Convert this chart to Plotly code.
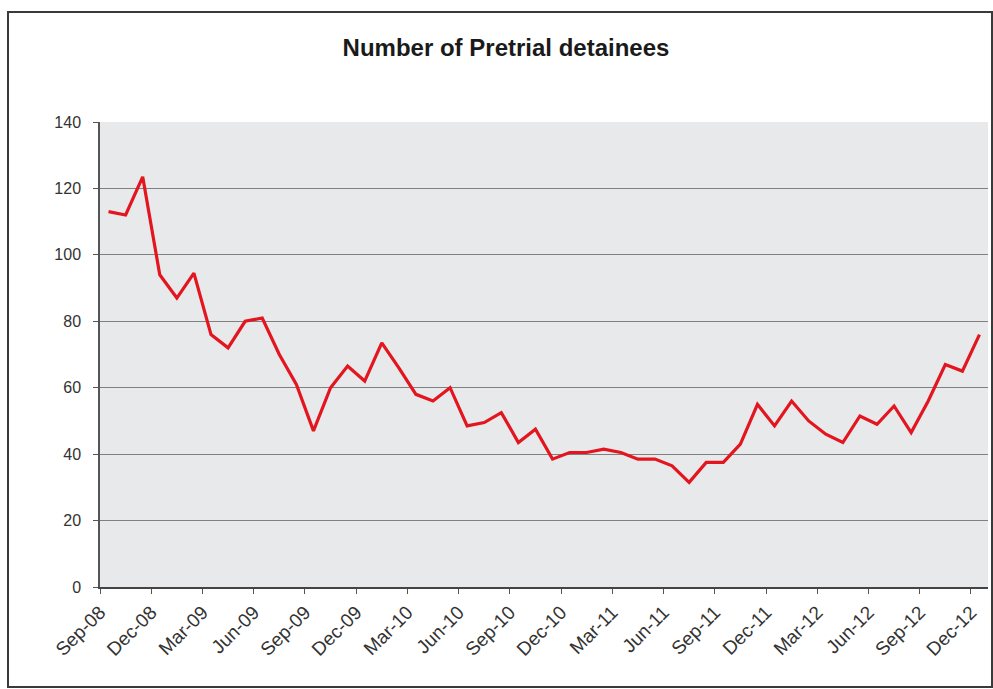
import numpy as np
import plotly.graph_objects as go

# Monthly pretrial detainee counts, Sep 2008 - Dec 2012
months = [
    "Sep-08", "Oct-08", "Nov-08", "Dec-08", "Jan-09", "Feb-09", "Mar-09", "Apr-09",
    "May-09", "Jun-09", "Jul-09", "Aug-09", "Sep-09", "Oct-09", "Nov-09", "Dec-09",
    "Jan-10", "Feb-10", "Mar-10", "Apr-10", "May-10", "Jun-10", "Jul-10", "Aug-10",
    "Sep-10", "Oct-10", "Nov-10", "Dec-10", "Jan-11", "Feb-11", "Mar-11", "Apr-11",
    "May-11", "Jun-11", "Jul-11", "Aug-11", "Sep-11", "Oct-11", "Nov-11", "Dec-11",
    "Jan-12", "Feb-12", "Mar-12", "Apr-12", "May-12", "Jun-12", "Jul-12", "Aug-12",
    "Sep-12", "Oct-12", "Nov-12", "Dec-12",
]
detainees = [
    113, 112, 123.5, 94, 87, 94.5, 76, 72,
    80, 81, 70, 61, 47, 60, 66.5, 62,
    73.5, 66, 58, 56, 60, 48.5, 49.5, 52.5,
    43.5, 47.5, 38.5, 40.5, 40.5, 41.5, 40.5, 38.5,
    38.5, 36.5, 31.5, 37.5, 37.5, 43, 55, 48.5,
    56, 50, 46, 43.5, 51.5, 49, 54.5, 46.5,
    56, 67, 65, 76,
]
y_ticks = [0, 20, 40, 60, 80, 100, 120, 140]
label_step = 3

x_pos = np.arange(len(months))
tick_pos = [i - 0.5 for i in range(0, len(months), label_step)]
tick_text = months[::label_step]

fig = go.Figure()
fig.add_trace(go.Scatter(
    x=x_pos, y=detainees, mode="lines",
    line=dict(color="#e3151f", width=3.2),
    hoverinfo="skip", showlegend=False,
))

W, H = 993, 689
L, R, T, B = 100, 5, 122, 102
pw, ph = W - L - R, H - T - B

def px_x(p):
    return (p - L) / pw

def px_y(p):
    return (H - B - p) / ph

fig.update_layout(
    width=W, height=H,
    margin=dict(l=L, r=R, t=T, b=B),
    paper_bgcolor="white",
    plot_bgcolor="#e8e9eb",
    font=dict(family="Liberation Sans, Arial, sans-serif", color="#333333", size=16),
    title=dict(
        text="<b>Number of Pretrial detainees</b>",
        x=506 / W, xanchor="center",
        y=1 - 48 / H, yanchor="middle",
        font=dict(size=24, color="#1a1a1a"),
    ),
    xaxis=dict(
        range=[-0.5, len(months) - 0.5],
        tickmode="array", tickvals=tick_pos, ticktext=tick_text,
        tickangle=-45, ticks="outside", ticklen=5, tickcolor="#555555",
        showgrid=False, zeroline=False,
        showline=True, linecolor="#444444", linewidth=1.5,
        tickfont=dict(size=19, color="#333333"),
    ),
    yaxis=dict(
        range=[0, 140],
        tickmode="array", tickvals=y_ticks,
        ticks="outside", ticklen=5, tickcolor="#555555",
        showgrid=True, gridcolor="#808080", gridwidth=1.3,
        zeroline=False,
        showline=True, linecolor="#555555", linewidth=1.5,
        tickfont=dict(size=16, color="#333333"),
        ticklabelstandoff=9,
    ),
    shapes=[
        # outer chart frame
        dict(type="rect", xref="paper", yref="paper",
             x0=px_x(8), x1=px_x(992), y0=px_y(687), y1=px_y(12),
             line=dict(color="#3a3a3a", width=2), fillcolor="rgba(0,0,0,0)",
             layer="below"),
    ],
)

fig.write_html("out.html")
